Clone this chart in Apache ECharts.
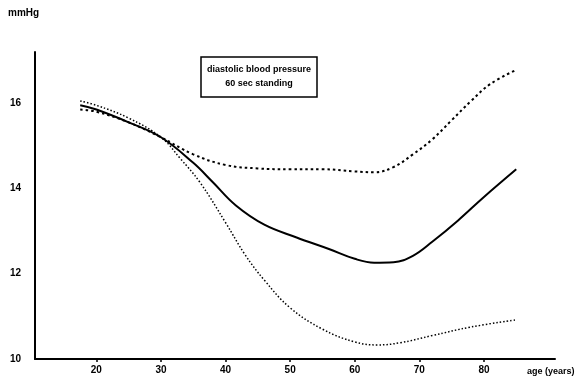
<!DOCTYPE html>
<html>
<head>
<meta charset="utf-8">
<script src="https://cdn.jsdelivr.net/npm/echarts@6/dist/echarts.min.js"></script>
<style>html,body{margin:0;padding:0;background:#fff}#c{width:587px;height:381px}</style>
</head>
<body>
<div id="c"></div>
<script>
const xTicks = [20, 30, 40, 50, 60, 70, 80];
const yTicks = [10, 12, 14, 16];
const solidAges = [17.5, 20, 25, 30, 35, 38, 41.6, 46, 51, 56, 60, 63, 66, 69, 72, 76, 80, 85];
const solidVals = [15.95, 15.85, 15.55, 15.2, 14.6, 14.15, 13.6, 13.15, 12.85, 12.58, 12.35, 12.26, 12.27, 12.42, 12.75, 13.25, 13.8, 14.45];
const lowAges = [17.5, 20, 25, 30, 33, 36, 40, 43, 46, 50, 55, 60, 63.5, 67, 72, 78, 85];
const lowVals = [16.05, 15.95, 15.65, 15.2, 14.7, 14.15, 13.2, 12.45, 11.85, 11.2, 10.7, 10.4, 10.33, 10.38, 10.55, 10.75, 10.92];
const highAges = [17.5, 20, 25, 30, 35, 40, 45, 50, 55, 60, 63, 66, 69, 72, 75, 78, 81, 85];
const highVals = [15.85, 15.8, 15.55, 15.2, 14.8, 14.55, 14.47, 14.45, 14.45, 14.4, 14.38, 14.5, 14.8, 15.15, 15.6, 16.05, 16.45, 16.78];

const zip = (a, b) => a.map((v, i) => [v, b[i]]);
const font = '"Liberation Sans", Arial, sans-serif';
const chart = echarts.init(document.getElementById('c'), null, {renderer: 'canvas'});
chart.setOption({
  animation: false,
  backgroundColor: '#fff',
  grid: {left: 35, right: 32, top: 52, bottom: 22},
  xAxis: {
    type: 'value', min: 10.5, max: 91,
    axisLine: {lineStyle: {color: '#000', width: 2}},
    axisTick: {show: true, customValues: xTicks, length: 3, inside: false, lineStyle: {color: '#000', width: 1.5}},
    axisLabel: {customValues: xTicks, color: '#000', fontFamily: font, fontWeight: 'bold', fontSize: 10, margin: 6},
    splitLine: {show: false}
  },
  yAxis: {
    type: 'value', min: 10, max: 17.2,
    axisLine: {show: true, lineStyle: {color: '#000', width: 2}},
    axisTick: {show: false},
    axisLabel: {customValues: yTicks, color: '#000', fontFamily: font, fontWeight: 'bold', fontSize: 10, margin: 14},
    splitLine: {show: false}
  },
  graphic: [
    {type: 'text', left: 8, top: 8, style: {text: 'mmHg', font: 'bold 10px ' + font, fill: '#000'}},
    {type: 'rect', shape: {x: 201, y: 57, width: 116, height: 40}, style: {fill: '#fff', stroke: '#000', lineWidth: 1.5}},
    {type: 'text', x: 259, y: 70, style: {text: 'diastolic blood pressure', font: 'bold 9px ' + font, fill: '#000', align: 'center', verticalAlign: 'middle'}},
    {type: 'text', x: 259, y: 84, style: {text: '60 sec standing', font: 'bold 9px ' + font, fill: '#000', align: 'center', verticalAlign: 'middle'}},
    {type: 'text', x: 527, y: 367, style: {text: 'age (years)', font: 'bold 9px ' + font, fill: '#000'}}
  ],
  series: [
    {type: 'line', data: zip(solidAges, solidVals), smooth: 0.4, symbol: 'none', lineStyle: {color: '#000', width: 2, type: 'solid'}},
    {type: 'line', data: zip(lowAges, lowVals), smooth: 0.4, symbol: 'none', lineStyle: {color: '#000', width: 1.5, type: [1.5, 2]}},
    {type: 'line', data: zip(highAges, highVals), smooth: 0.4, symbol: 'none', lineStyle: {color: '#000', width: 2, type: [2.5, 3]}}
  ]
});
</script>
</body>
</html>
